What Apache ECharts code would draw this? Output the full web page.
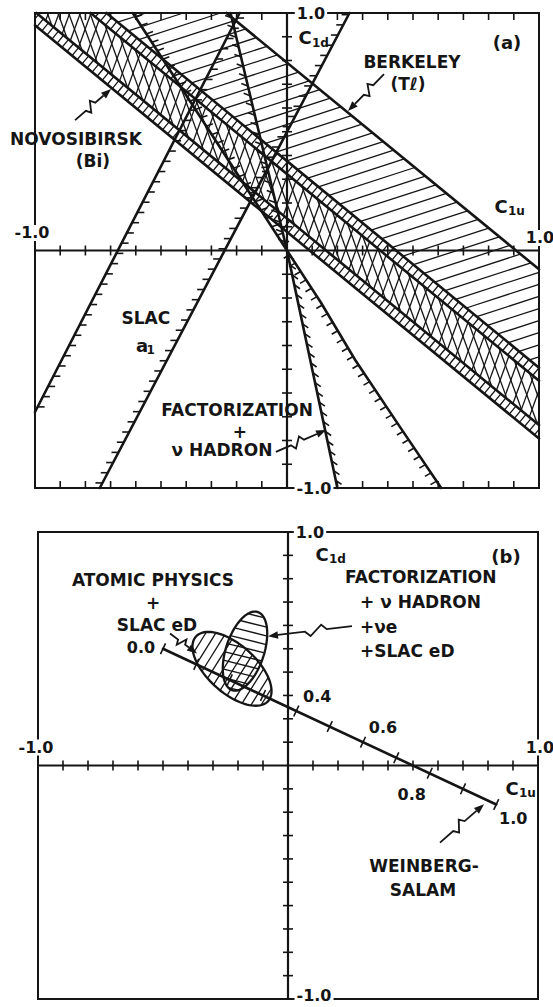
<!DOCTYPE html>
<html>
<head>
<meta charset="utf-8">
<title>C1u – C1d constraints</title>
<script src="https://cdn.jsdelivr.net/npm/echarts@6.0.0/dist/echarts.min.js"></script>
<style>
  html, body { margin: 0; padding: 0; background: #fff; }
  #chart { width: 553px; height: 1007px; }
</style>
</head>
<body>
<div id="chart"></div>
<script>
// ---------------- values ----------------
// minor ticks on both coupling axes
const axisTicks = [-0.9, -0.8, -0.7, -0.6, -0.5, -0.4, -0.3, -0.2, -0.1,
                   0.1, 0.2, 0.3, 0.4, 0.5, 0.6, 0.7, 0.8, 0.9];

// Panel (a): parallel edges of the atomic-physics bands, C1d = bandSlope * (C1u - c),
// c = C1u intercept of each edge, lowest edge first
const bandSlope = -0.87;
const bandEdges = [0.09, 0.155, 0.37, 0.433, 0.909];

// SLAC a1 limits
const slacLeft = [[-1.0, -0.68], [-0.188, 1.0]];
const slacRight = [[-0.743, -1.0], [0.248, 1.0]];

// factorization + nu hadron limits, both passing through the origin
const factSteep = [[-0.224, 1.0], [0, 0], [0.05, -0.25], [0.1, -0.5], [0.15, -0.75], [0.2, -1.0]];
const factShallow = [[-0.612, 1.0], [0, 0], [0.135, -0.22], [0.27, -0.46], [0.44, -0.73], [0.612, -1.0]];

// Panel (b): Weinberg–Salam line, marked at sin²θW = 0.0, 0.1 … 1.0
const wsPoints = [[-0.5, 0.5], [-0.367, 0.433], [-0.233, 0.367], [-0.1, 0.3], [0.033, 0.233],
                  [0.167, 0.167], [0.3, 0.1], [0.433, 0.033], [0.567, -0.033], [0.7, -0.1], [0.833, -0.167]];
const wsLabels = ['0.0', '', '', '', '0.4', '', '0.6', '', '0.8', '', '1.0'];

// allowed regions: [C1u centre, C1d centre, semi-major, semi-minor, tilt in degrees]
const ellipseAtomic = [-0.224, 0.414, 0.2, 0.1, -45];
const ellipseFact = [-0.172, 0.49, 0.175, 0.077, 73.6];

// ---------------- styles ----------------
const INK = '#151515';
const FAMILY = '"DejaVu Sans", "Liberation Sans", sans-serif';
const BOLD = { stroke: INK, lineWidth: 2.6, fill: 'none', lineCap: 'round' };
const FRAME = { stroke: INK, lineWidth: 2, fill: 'none' };
const HATCH = { stroke: INK, lineWidth: 1.3, fill: 'none' };
const TICK = { stroke: INK, lineWidth: 1.6, fill: 'none' };
const BOX = [[-1, -1], [1, -1], [1, 1], [-1, 1]];

// ---------------- label layout (data coordinates) ----------------
const labelsA = [
  { text: '1.0', at: [0.095, 1.0], size: 16, bg: true },
  { text: '-1.0', at: [-1.012, 0.074], size: 16, bg: true },
  { text: '1.0', at: [1.004, 0.053], size: 16, bg: true },
  { text: '-1.0', at: [0.107, -1.0], size: 16, bg: true },
  { text: '(a)', at: [0.873, 0.874], size: 18 },
  { text: 'BERKELEY', at: [0.496, 0.794] },
  { text: '(Tℓ)', at: [0.48, 0.701] },
  { text: 'NOVOSIBIRSK', at: [-0.837, 0.469] },
  { text: '(Bi)', at: [-0.77, 0.377] },
  { text: 'SLAC', at: [-0.56, -0.284] },
  { text: 'FACTORIZATION', at: [-0.198, -0.672] },
  { text: '+', at: [-0.187, -0.764] },
  { text: 'ν HADRON', at: [-0.258, -0.84] }
];
const subLabelsA = [
  { main: 'C', sub: '1d', at: [0.103, 0.895] },
  { main: 'C', sub: '1u', at: [0.881, 0.187] },
  { main: 'a', sub: '1', at: [-0.563, -0.398] }
];
const arrowsA = [
  { tail: [0.385, 0.743], head: [0.242, 0.587] },
  { tail: [-0.841, 0.549], head: [-0.698, 0.68] },
  { tail: [-0.044, -0.848], head: [0.155, -0.756] }
];

const labelsB = [
  { text: '1.0', at: [0.088, 1.0], size: 16, bg: true },
  { text: '-1.0', at: [-1.008, 0.077], size: 16, bg: true },
  { text: '1.0', at: [1.008, 0.077], size: 16, bg: true },
  { text: '-1.0', at: [0.104, -0.985], size: 16, bg: true },
  { text: '(b)', at: [0.872, 0.896], size: 18 },
  { text: 'ATOMIC PHYSICS', at: [-0.54, 0.793] },
  { text: '+', at: [-0.54, 0.695] },
  { text: 'SLAC eD', at: [-0.524, 0.6] },
  { text: 'FACTORIZATION', at: [0.228, 0.806], align: 'left' },
  { text: '+ ν HADRON', at: [0.288, 0.699], align: 'left' },
  { text: '+νe', at: [0.288, 0.593], align: 'left' },
  { text: '+SLAC eD', at: [0.288, 0.49], align: 'left' },
  { text: 'WEINBERG-', at: [0.544, -0.432] },
  { text: 'SALAM', at: [0.54, -0.535] }
];
const subLabelsB = [
  { main: 'C', sub: '1d', at: [0.168, 0.904] },
  { main: 'C', sub: '1u', at: [0.928, -0.098] }
];
const arrowsB = [
  { tail: [-0.472, 0.565], head: [-0.364, 0.48] },
  { tail: [0.256, 0.597], head: [-0.08, 0.554] },
  { tail: [0.608, -0.33], head: [0.784, -0.166] }
];
// pixel offsets of the sin²θW labels from their marks
const wsLabelOffsets = [[-22, -1], null, null, null, [21, -15], null, [20, -15], null, [-18, 21], null, [17, 14]];

// ---------------- geometry helpers ----------------
function clipHalf(poly, f) {
  const out = [];
  for (let i = 0; i < poly.length; i++) {
    const a = poly[i], b = poly[(i + 1) % poly.length];
    const fa = f(a), fb = f(b);
    if (fa >= 0) out.push(a);
    if ((fa >= 0) !== (fb >= 0)) {
      const t = fa / (fa - fb);
      out.push([a[0] + t * (b[0] - a[0]), a[1] + t * (b[1] - a[1])]);
    }
  }
  return out;
}

function clipSeg(p, q) {
  let t0 = 0, t1 = 1;
  const dx = q[0] - p[0], dy = q[1] - p[1];
  const checks = [[-dx, p[0] + 1], [dx, 1 - p[0]], [-dy, p[1] + 1], [dy, 1 - p[1]]];
  for (const [pp, qq] of checks) {
    if (pp === 0) { if (qq < 0) return null; continue; }
    const r = qq / pp;
    if (pp < 0) { if (r > t1) return null; if (r > t0) t0 = r; }
    else { if (r < t0) return null; if (r < t1) t1 = r; }
  }
  return [[p[0] + t0 * dx, p[1] + t0 * dy], [p[0] + t1 * dx, p[1] + t1 * dy]];
}

function extendClip(ln) {
  const [p, q] = ln, dx = q[0] - p[0], dy = q[1] - p[1];
  return clipSeg([p[0] - 5 * dx, p[1] - 5 * dy], [q[0] + 5 * dx, q[1] + 5 * dy]);
}

function seg(a, b, style) {
  return { type: 'line', shape: { x1: a[0], y1: a[1], x2: b[0], y2: b[1] }, style };
}

// parallel hatch lines (pixel space) clipped to a convex polygon
function hatch(poly, angleDeg, spacing, style) {
  if (poly.length < 3) return [];
  const a = angleDeg * Math.PI / 180;
  const d = [Math.cos(a), Math.sin(a)], n = [-d[1], d[0]];
  let lo = Infinity, hi = -Infinity;
  poly.forEach(p => { const v = p[0] * n[0] + p[1] * n[1]; lo = Math.min(lo, v); hi = Math.max(hi, v); });
  const out = [];
  for (let c = Math.ceil(lo / spacing) * spacing; c <= hi; c += spacing) {
    const ts = [];
    for (let i = 0; i < poly.length; i++) {
      const p1 = poly[i], p2 = poly[(i + 1) % poly.length];
      const v1 = p1[0] * n[0] + p1[1] * n[1] - c, v2 = p2[0] * n[0] + p2[1] * n[1] - c;
      if ((v1 <= 0 && v2 > 0) || (v1 > 0 && v2 <= 0)) {
        const f = v1 / (v1 - v2);
        const x = p1[0] + f * (p2[0] - p1[0]), y = p1[1] + f * (p2[1] - p1[1]);
        ts.push(x * d[0] + y * d[1]);
      }
    }
    if (ts.length >= 2) {
      const t0 = Math.min(...ts), t1 = Math.max(...ts);
      out.push(seg([c * n[0] + t0 * d[0], c * n[1] + t0 * d[1]],
                   [c * n[0] + t1 * d[0], c * n[1] + t1 * d[1]], style));
    }
  }
  return out;
}

// short hatch marks along a pixel polyline, showing the allowed side
function ticksAlong(pts, spacing, angleDeg, len, style) {
  const out = [];
  const a = angleDeg * Math.PI / 180, v = [Math.cos(a) * len, Math.sin(a) * len];
  let acc = spacing / 2;
  for (let i = 0; i < pts.length - 1; i++) {
    const p = pts[i], q = pts[i + 1];
    const L = Math.hypot(q[0] - p[0], q[1] - p[1]);
    while (acc <= L) {
      const f = acc / L, x = p[0] + f * (q[0] - p[0]), y = p[1] + f * (q[1] - p[1]);
      out.push(seg([x, y], [x + v[0], y + v[1]], style));
      acc += spacing;
    }
    acc -= L;
  }
  return out;
}

function ellipsePts(e) {
  const [cx, cy, a, b, tilt] = e, th = tilt * Math.PI / 180, pts = [];
  for (let i = 0; i < 96; i++) {
    const t = i / 96 * 2 * Math.PI;
    pts.push([cx + a * Math.cos(th) * Math.cos(t) - b * Math.sin(th) * Math.sin(t),
              cy + a * Math.sin(th) * Math.cos(t) + b * Math.cos(th) * Math.sin(t)]);
  }
  return pts;
}

function font(size) { return 'bold ' + size + 'px ' + FAMILY; }

function text(pt, str, size, opts) {
  opts = opts || {};
  const style = {
    text: str, font: font(size), fill: INK,
    align: opts.align || 'center', verticalAlign: 'middle'
  };
  if (opts.bg) { style.backgroundColor = '#fff'; style.padding = [0, 2]; }
  return { type: 'text', x: pt[0], y: pt[1], style };
}

function subText(pt, main, sub) {
  const wMain = main === 'C' ? 13 : 10;
  const x0 = pt[0] - (wMain + sub.length * 8) / 2;
  return [
    text([x0, pt[1]], main, 18, { align: 'left' }),
    text([x0 + wMain + 0.5, pt[1] + 5], sub, 12, { align: 'left' })
  ];
}

// lightning-style pointer with a filled head
function arrow(t, h) {
  const dx = h[0] - t[0], dy = h[1] - t[1], L = Math.hypot(dx, dy);
  const ux = dx / L, uy = dy / L, nx = -uy, ny = ux;
  const at = f => [t[0] + dx * f, t[1] + dy * f];
  const k1 = at(0.36), k2 = at(0.5);
  const base = [h[0] - ux * 10, h[1] - uy * 10];
  return [
    { type: 'polyline', shape: { points: [t, at(0.3), [k1[0] + nx * 5, k1[1] + ny * 5], [k2[0] - nx * 5, k2[1] - ny * 5], at(0.56), base] },
      style: { stroke: INK, lineWidth: 1.8, fill: 'none', lineJoin: 'miter' } },
    { type: 'polygon', shape: { points: [h, [base[0] + nx * 3.8, base[1] + ny * 3.8], [base[0] - nx * 3.8, base[1] - ny * 3.8]] },
      style: { fill: INK } }
  ];
}

// frame, centred axes and their ticks
function frame(P, els, edgeTicks) {
  const tl = P([-1, 1]), br = P([1, -1]);
  els.push({ type: 'rect', shape: { x: tl[0], y: tl[1], width: br[0] - tl[0], height: br[1] - tl[1] }, style: FRAME });
  els.push(seg(P([-1, 0]), P([1, 0]), { stroke: INK, lineWidth: 2.2 }));
  els.push(seg(P([0, -1]), P([0, 1]), { stroke: INK, lineWidth: 2.2 }));
  axisTicks.forEach(v => {
    const hx = P([v, 0]), vy = P([0, v]);
    els.push(seg([hx[0], hx[1] - 5], [hx[0], hx[1] + 5], TICK));
    els.push(seg([vy[0] - 5, vy[1]], [vy[0] + 5, vy[1]], TICK));
    if (edgeTicks) {
      const t = P([v, 1]), b = P([v, -1]);
      els.push(seg(t, [t[0], t[1] + 7], TICK));
      els.push(seg(b, [b[0], b[1] - 7], TICK));
    }
  });
}

function labels(P, els, list, subs, arrows) {
  list.forEach(l => els.push(text(P(l.at), l.text, l.size || 17, l)));
  subs.forEach(s => els.push(...subText(P(s.at), s.main, s.sub)));
  arrows.forEach(a => els.push(...arrow(P(a.tail), P(a.head))));
}

// ---------------- panel (a) ----------------
function renderPanelA(params, api) {
  const P = p => api.coord(p);
  const els = [];
  const u = p => p[0] - p[1] / bandSlope;
  const strip = (c0, c1) => clipHalf(clipHalf(BOX, p => u(p) - c0), p => c1 - u(p)).map(P);
  const o = P([0, 0]), q = P([1, bandSlope]);
  const bandAngle = Math.atan2(q[1] - o[1], q[0] - o[0]) * 180 / Math.PI;
  const [e0, e1, e2, e3, e4] = bandEdges;

  els.push(...hatch(strip(e0, e1), bandAngle - 90, 6.5, HATCH));
  els.push(...hatch(strip(e1, e2), 70, 10, HATCH), ...hatch(strip(e1, e2), 110, 10, HATCH));
  els.push(...hatch(strip(e2, e3), bandAngle - 90, 6.5, HATCH));
  els.push(...hatch(strip(e3, e4), -18, 11.5, HATCH));

  bandEdges.forEach(c => {
    const s = clipSeg([c - 3, -3 * bandSlope], [c + 3, 3 * bandSlope]);
    if (s) els.push(seg(P(s[0]), P(s[1]), BOLD));
  });

  [[slacLeft, 0], [slacRight, 180]].forEach(([ln, ang]) => {
    const s = extendClip(ln), a = P(s[0]), b = P(s[1]);
    els.push(seg(a, b, BOLD));
    els.push(...ticksAlong([a, b], 11.5, ang, 7, TICK));
  });

  [[factSteep, 200, 35], [factShallow, -20, 150]].forEach(([pts, upAng, lowAng]) => {
    const px = pts.map(P);
    els.push({ type: 'polyline', shape: { points: px }, style: BOLD });
    els.push(...ticksAlong(px.slice(0, 2), 10, upAng, 7, TICK));
    els.push(...ticksAlong(px.slice(1), 10, lowAng, 7, TICK));
  });

  frame(P, els, true);
  labels(P, els, labelsA, subLabelsA, arrowsA);
  return { type: 'group', children: els };
}

// ---------------- panel (b) ----------------
function renderPanelB(params, api) {
  const P = p => api.coord(p);
  const els = [];
  const atomic = ellipsePts(ellipseAtomic).map(P);
  const fact = ellipsePts(ellipseFact).map(P);
  els.push(...hatch(atomic, -58, 8.5, HATCH));
  els.push(...hatch(fact, 14, 8.5, HATCH));
  els.push({ type: 'polygon', shape: { points: atomic }, style: { fill: 'none', stroke: INK, lineWidth: 2.3 } });
  els.push({ type: 'polygon', shape: { points: fact }, style: { fill: 'none', stroke: INK, lineWidth: 2.3 } });

  const ws = wsPoints.map(P);
  const first = ws[0], last = ws[ws.length - 1];
  els.push(seg(first, last, BOLD));
  const L = Math.hypot(last[0] - first[0], last[1] - first[1]);
  const nx = -(last[1] - first[1]) / L, ny = (last[0] - first[0]) / L;
  ws.forEach((p, i) => {
    els.push(seg([p[0] - nx * 6, p[1] - ny * 6], [p[0] + nx * 6, p[1] + ny * 6], TICK));
    if (wsLabels[i]) {
      const off = wsLabelOffsets[i];
      els.push(text([p[0] + off[0], p[1] + off[1]], wsLabels[i], 16));
    }
  });

  frame(P, els, false);
  labels(P, els, labelsB, subLabelsB, arrowsB);
  return { type: 'group', children: els };
}

const chart = echarts.init(document.getElementById('chart'), null, { renderer: 'svg' });
chart.setOption({
  animation: false,
  backgroundColor: '#fff',
  grid: [
    { left: 35, top: 13, width: 504, height: 475, show: false },
    { left: 38, top: 532, width: 500, height: 467, show: false }
  ],
  xAxis: [
    { gridIndex: 0, type: 'value', min: -1, max: 1, show: false },
    { gridIndex: 1, type: 'value', min: -1, max: 1, show: false }
  ],
  yAxis: [
    { gridIndex: 0, type: 'value', min: -1, max: 1, show: false },
    { gridIndex: 1, type: 'value', min: -1, max: 1, show: false }
  ],
  series: [
    { type: 'custom', xAxisIndex: 0, yAxisIndex: 0, data: [[0, 0]], renderItem: renderPanelA, silent: true, clip: false },
    { type: 'custom', xAxisIndex: 1, yAxisIndex: 1, data: [[0, 0]], renderItem: renderPanelB, silent: true, clip: false }
  ]
});
</script>
</body>
</html>
